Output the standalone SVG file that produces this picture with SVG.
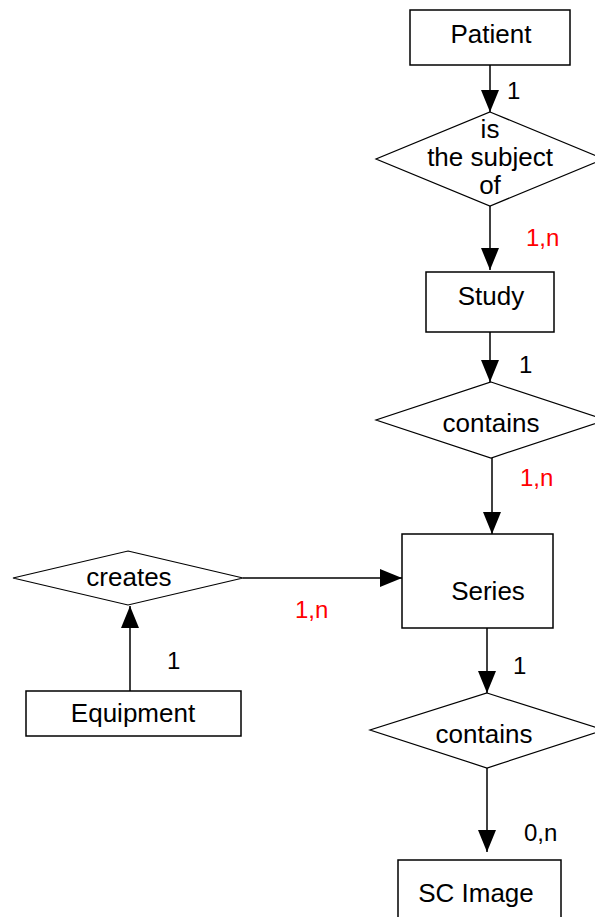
<svg xmlns="http://www.w3.org/2000/svg" width="595" height="917" viewBox="0 0 595 917">
<style>
.box{fill:#fff;stroke:#000;stroke-width:1.5}
.dia{fill:#fff;stroke:#000;stroke-width:1.2}
.t{font-family:"Liberation Sans",Arial,sans-serif;font-size:26px;fill:#000;text-anchor:middle}
.lb{font-family:"Liberation Sans",Arial,sans-serif;font-size:24px;fill:#000}
.red{fill:#ff0000}
.ln{stroke:#000;stroke-width:1.5;fill:none;marker-end:url(#ah)}
</style>
<defs>
<marker id="ah" markerUnits="userSpaceOnUse" markerWidth="24" markerHeight="20" refX="22" refY="9" orient="auto">
<path d="M0,0 L22,9 L0,18 z" fill="#000"/>
</marker>
</defs>
<rect width="595" height="917" fill="#fff"/>
<g id="connectors">
<line class="ln" x1="490" y1="65" x2="490" y2="112"/>
<line class="ln" x1="490" y1="206" x2="490" y2="270"/>
<line class="ln" x1="490" y1="332" x2="490" y2="382"/>
<line class="ln" x1="492" y1="458" x2="492" y2="534"/>
<line class="ln" x1="243" y1="578" x2="402" y2="578"/>
<line class="ln" x1="130" y1="691" x2="130" y2="606"/>
<line class="ln" x1="487" y1="622" x2="487" y2="693"/>
<line class="ln" x1="487" y1="768" x2="487" y2="852"/>
<text class="lb" x="507" y="99">1</text>
<text class="lb red" x="526" y="246">1,n</text>
<text class="lb" x="519" y="373">1</text>
<text class="lb red" x="520" y="486">1,n</text>
<text class="lb red" x="295" y="618">1,n</text>
<text class="lb" x="167" y="669">1</text>
<text class="lb" x="513" y="674">1</text>
<text class="lb" x="524" y="841">0,n</text>
</g>
<g id="patient">
<rect class="box" x="410" y="10" width="160" height="55"/>
<text class="t" x="491" y="43">Patient</text>
</g>
<g id="subject">
<polygon class="dia" points="490,112 604,159 490,206 376,159"/>
<text class="t" x="490" y="138">is</text>
<text class="t" x="490" y="166">the subject</text>
<text class="t" x="490" y="194">of</text>
</g>
<g id="study">
<rect class="box" x="426" y="272" width="128" height="60"/>
<text class="t" x="491" y="305">Study</text>
</g>
<g id="contains1">
<polygon class="dia" points="491,382 606,420 491,458 376,420"/>
<text class="t" x="491" y="432">contains</text>
</g>
<g id="series">
<rect class="box" x="402" y="534" width="151" height="94"/>
<text class="t" x="488" y="600">Series</text>
</g>
<g id="creates">
<polygon class="dia" points="128,551 243,578 128,605 13,578"/>
<text class="t" x="129" y="586">creates</text>
</g>
<g id="equipment">
<rect class="box" x="26" y="691" width="215" height="45"/>
<text class="t" x="133" y="722">Equipment</text>
</g>
<g id="contains2">
<polygon class="dia" points="487,693 604,730 487,768 370,730"/>
<text class="t" x="484" y="743">contains</text>
</g>
<g id="scimage">
<rect class="box" x="398" y="860" width="163" height="70"/>
<text class="t" x="476" y="902">SC Image</text>
</g>
</svg>
